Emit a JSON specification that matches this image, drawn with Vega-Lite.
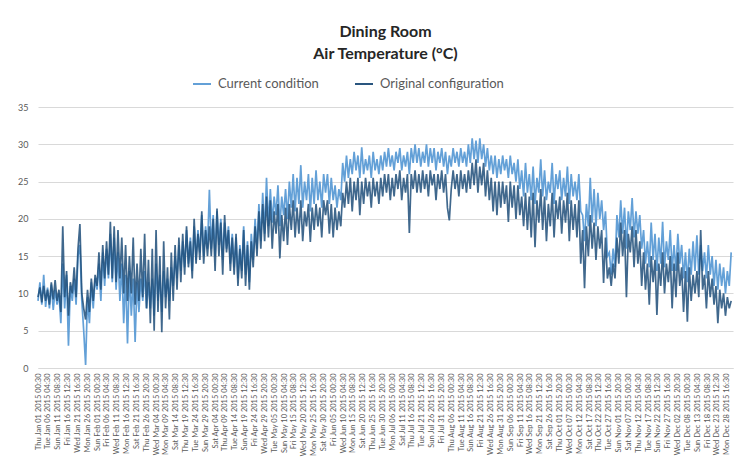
{
"$schema":"https://vega.github.io/schema/vega-lite/v6.json",
"width":695,"height":261,
"autosize":{"type":"none"},
"padding":{"left":38,"top":107,"right":5,"bottom":91},
"background":"white",
"config":{"view":{"stroke":null},"font":"Lato",
"axisY":{"values":[0,5,10,15,20,25,30,35],"labelFontSize":9,"labelFont":"Lato","labelColor":"#595959","ticks":false,"domain":false,"gridColor":"#d9d9d9","labelPadding":10,"title":null}},
"title":{"text":["Dining Room","Air Temperature (°C)"],"fontSize":16,"font":"Lato","fontWeight":"bold","color":"#262626","anchor":"middle","offset":12,"lineHeight":22},
"data":{"values":[
{"d":"2015-01-01","c":9.0,"o":9.5},{"d":"2015-01-02","c":11.5,"o":10.8},{"d":"2015-01-03","c":8.5,"o":8.8},{"d":"2015-01-04","c":12.5,"o":11.0},{"d":"2015-01-05","c":8.2,"o":9.0},{"d":"2015-01-06","c":10.8,"o":10.5},{"d":"2015-01-07","c":8.0,"o":8.5},{"d":"2015-01-08","c":11.2,"o":11.5},{"d":"2015-01-09","c":7.8,"o":9.2},{"d":"2015-01-10","c":10.5,"o":11.8},
{"d":"2015-01-11","c":8.5,"o":9.0},{"d":"2015-01-12","c":10.0,"o":10.5},{"d":"2015-01-13","c":6.0,"o":7.5},{"d":"2015-01-14","c":14.0,"o":19.0},{"d":"2015-01-15","c":8.0,"o":9.5},{"d":"2015-01-16","c":12.5,"o":13.0},{"d":"2015-01-17","c":3.0,"o":7.0},{"d":"2015-01-18","c":11.0,"o":11.5},{"d":"2015-01-19","c":9.0,"o":10.0},{"d":"2015-01-20","c":12.0,"o":13.5},
{"d":"2015-01-21","c":8.5,"o":9.5},{"d":"2015-01-22","c":15.0,"o":16.0},{"d":"2015-01-23","c":16.5,"o":19.3},{"d":"2015-01-24","c":9.0,"o":10.0},{"d":"2015-01-25","c":5.0,"o":8.0},{"d":"2015-01-26","c":0.4,"o":6.5},{"d":"2015-01-27","c":9.5,"o":10.5},{"d":"2015-01-28","c":6.0,"o":7.5},{"d":"2015-01-29","c":11.5,"o":12.0},{"d":"2015-01-30","c":8.0,"o":9.0},{"d":"2015-01-31","c":12.0,"o":12.5},
{"d":"2015-02-01","c":10.5,"o":11.0},{"d":"2015-02-02","c":14.0,"o":15.5},{"d":"2015-02-03","c":9.0,"o":10.5},{"d":"2015-02-04","c":15.5,"o":16.5},{"d":"2015-02-05","c":11.0,"o":12.0},{"d":"2015-02-06","c":16.0,"o":17.0},{"d":"2015-02-07","c":12.0,"o":12.5},{"d":"2015-02-08","c":18.0,"o":19.6},{"d":"2015-02-09","c":11.5,"o":12.0},{"d":"2015-02-10","c":17.5,"o":19.0},
{"d":"2015-02-11","c":10.5,"o":11.5},{"d":"2015-02-12","c":15.5,"o":18.5},{"d":"2015-02-13","c":9.0,"o":12.0},{"d":"2015-02-14","c":14.0,"o":17.5},{"d":"2015-02-15","c":6.0,"o":10.0},{"d":"2015-02-16","c":12.5,"o":16.5},{"d":"2015-02-17","c":3.3,"o":9.0},{"d":"2015-02-18","c":13.0,"o":15.0},{"d":"2015-02-19","c":7.0,"o":10.0},{"d":"2015-02-20","c":12.0,"o":17.5},
{"d":"2015-02-21","c":3.5,"o":8.5},{"d":"2015-02-22","c":11.5,"o":14.0},{"d":"2015-02-23","c":7.5,"o":9.0},{"d":"2015-02-24","c":12.0,"o":16.0},{"d":"2015-02-25","c":9.0,"o":9.5},{"d":"2015-02-26","c":13.0,"o":18.0},{"d":"2015-02-27","c":8.0,"o":8.0},{"d":"2015-02-28","c":11.5,"o":14.5},
{"d":"2015-03-01","c":8.0,"o":6.0},{"d":"2015-03-02","c":12.0,"o":16.0},{"d":"2015-03-03","c":7.0,"o":5.0},{"d":"2015-03-04","c":14.0,"o":18.5},{"d":"2015-03-05","c":9.0,"o":7.5},{"d":"2015-03-06","c":12.5,"o":15.0},{"d":"2015-03-07","c":7.5,"o":4.8},{"d":"2015-03-08","c":13.0,"o":17.0},{"d":"2015-03-09","c":9.5,"o":8.0},{"d":"2015-03-10","c":12.0,"o":13.5},
{"d":"2015-03-11","c":9.0,"o":6.5},{"d":"2015-03-12","c":13.5,"o":15.5},{"d":"2015-03-13","c":11.0,"o":9.0},{"d":"2015-03-14","c":15.0,"o":16.5},{"d":"2015-03-15","c":12.0,"o":10.5},{"d":"2015-03-16","c":16.5,"o":17.5},{"d":"2015-03-17","c":13.0,"o":11.5},{"d":"2015-03-18","c":17.0,"o":18.0},{"d":"2015-03-19","c":13.5,"o":12.5},{"d":"2015-03-20","c":18.5,"o":19.0},
{"d":"2015-03-21","c":14.0,"o":13.5},{"d":"2015-03-22","c":17.5,"o":17.0},{"d":"2015-03-23","c":13.0,"o":12.0},{"d":"2015-03-24","c":19.0,"o":20.0},{"d":"2015-03-25","c":14.5,"o":14.0},{"d":"2015-03-26","c":18.5,"o":18.0},{"d":"2015-03-27","c":15.5,"o":14.5},{"d":"2015-03-28","c":20.5,"o":21.0},{"d":"2015-03-29","c":15.0,"o":14.0},{"d":"2015-03-30","c":19.0,"o":18.5},{"d":"2015-03-31","c":16.0,"o":15.0},
{"d":"2015-04-01","c":23.9,"o":19.0},{"d":"2015-04-02","c":16.0,"o":15.0},{"d":"2015-04-03","c":20.5,"o":20.0},{"d":"2015-04-04","c":15.0,"o":13.0},{"d":"2015-04-05","c":21.0,"o":21.4},{"d":"2015-04-06","c":16.5,"o":15.0},{"d":"2015-04-07","c":20.0,"o":19.5},{"d":"2015-04-08","c":14.5,"o":12.5},{"d":"2015-04-09","c":19.5,"o":20.5},{"d":"2015-04-10","c":16.0,"o":15.5},
{"d":"2015-04-11","c":19.0,"o":18.5},{"d":"2015-04-12","c":14.0,"o":13.0},{"d":"2015-04-13","c":18.0,"o":17.5},{"d":"2015-04-14","c":13.5,"o":12.5},{"d":"2015-04-15","c":17.5,"o":18.0},{"d":"2015-04-16","c":12.0,"o":11.0},{"d":"2015-04-17","c":16.5,"o":16.0},{"d":"2015-04-18","c":13.0,"o":12.0},{"d":"2015-04-19","c":19.0,"o":18.5},{"d":"2015-04-20","c":12.5,"o":11.0},
{"d":"2015-04-21","c":17.0,"o":16.5},{"d":"2015-04-22","c":11.5,"o":10.5},{"d":"2015-04-23","c":18.0,"o":17.0},{"d":"2015-04-24","c":14.5,"o":13.5},{"d":"2015-04-25","c":20.0,"o":19.0},{"d":"2015-04-26","c":16.0,"o":15.0},{"d":"2015-04-27","c":22.0,"o":21.0},{"d":"2015-04-28","c":17.0,"o":16.0},{"d":"2015-04-29","c":23.5,"o":22.0},{"d":"2015-04-30","c":18.0,"o":17.0},
{"d":"2015-05-01","c":25.5,"o":23.0},{"d":"2015-05-02","c":19.0,"o":17.5},{"d":"2015-05-03","c":24.0,"o":22.5},{"d":"2015-05-04","c":19.5,"o":16.0},{"d":"2015-05-05","c":23.0,"o":21.0},{"d":"2015-05-06","c":20.5,"o":18.0},{"d":"2015-05-07","c":24.5,"o":22.0},{"d":"2015-05-08","c":19.0,"o":14.7},{"d":"2015-05-09","c":23.0,"o":20.5},{"d":"2015-05-10","c":20.5,"o":17.0},
{"d":"2015-05-11","c":24.0,"o":21.5},{"d":"2015-05-12","c":20.0,"o":16.5},{"d":"2015-05-13","c":25.0,"o":22.0},{"d":"2015-05-14","c":21.5,"o":18.5},{"d":"2015-05-15","c":26.0,"o":22.5},{"d":"2015-05-16","c":21.0,"o":17.5},{"d":"2015-05-17","c":25.5,"o":21.5},{"d":"2015-05-18","c":22.0,"o":18.0},{"d":"2015-05-19","c":27.2,"o":22.5},{"d":"2015-05-20","c":21.5,"o":17.0},
{"d":"2015-05-21","c":25.0,"o":21.0},{"d":"2015-05-22","c":22.5,"o":19.0},{"d":"2015-05-23","c":26.0,"o":22.0},{"d":"2015-05-24","c":21.0,"o":16.9},{"d":"2015-05-25","c":25.5,"o":21.5},{"d":"2015-05-26","c":22.0,"o":18.5},{"d":"2015-05-27","c":26.5,"o":22.0},{"d":"2015-05-28","c":22.5,"o":19.0},{"d":"2015-05-29","c":25.0,"o":21.5},{"d":"2015-05-30","c":21.5,"o":17.5},{"d":"2015-05-31","c":26.0,"o":22.5},
{"d":"2015-06-01","c":23.5,"o":20.5},{"d":"2015-06-02","c":26.0,"o":22.5},{"d":"2015-06-03","c":22.0,"o":18.0},{"d":"2015-06-04","c":25.5,"o":22.0},{"d":"2015-06-05","c":22.5,"o":17.5},{"d":"2015-06-06","c":24.5,"o":21.5},{"d":"2015-06-07","c":21.5,"o":18.5},{"d":"2015-06-08","c":24.0,"o":21.0},{"d":"2015-06-09","c":22.5,"o":19.0},{"d":"2015-06-10","c":27.5,"o":23.5},
{"d":"2015-06-11","c":25.0,"o":21.5},{"d":"2015-06-12","c":28.5,"o":25.0},{"d":"2015-06-13","c":25.5,"o":22.0},{"d":"2015-06-14","c":28.0,"o":25.5},{"d":"2015-06-15","c":26.0,"o":21.0},{"d":"2015-06-16","c":29.0,"o":25.0},{"d":"2015-06-17","c":26.5,"o":22.5},{"d":"2015-06-18","c":28.5,"o":25.5},{"d":"2015-06-19","c":25.5,"o":20.5},{"d":"2015-06-20","c":29.6,"o":25.0},
{"d":"2015-06-21","c":26.0,"o":22.0},{"d":"2015-06-22","c":28.0,"o":25.5},{"d":"2015-06-23","c":26.5,"o":23.0},{"d":"2015-06-24","c":28.5,"o":25.0},{"d":"2015-06-25","c":25.5,"o":21.5},{"d":"2015-06-26","c":29.0,"o":25.5},{"d":"2015-06-27","c":26.5,"o":23.0},{"d":"2015-06-28","c":28.0,"o":25.0},{"d":"2015-06-29","c":26.0,"o":22.0},{"d":"2015-06-30","c":28.5,"o":25.5},
{"d":"2015-07-01","c":26.5,"o":23.0},{"d":"2015-07-02","c":29.0,"o":26.0},{"d":"2015-07-03","c":27.0,"o":23.5},{"d":"2015-07-04","c":29.5,"o":26.0},{"d":"2015-07-05","c":27.0,"o":22.5},{"d":"2015-07-06","c":28.5,"o":25.5},{"d":"2015-07-07","c":26.5,"o":23.0},{"d":"2015-07-08","c":29.0,"o":26.0},{"d":"2015-07-09","c":27.5,"o":24.0},{"d":"2015-07-10","c":29.5,"o":26.5},
{"d":"2015-07-11","c":26.5,"o":22.5},{"d":"2015-07-12","c":28.5,"o":25.5},{"d":"2015-07-13","c":27.0,"o":23.5},{"d":"2015-07-14","c":29.0,"o":26.0},{"d":"2015-07-15","c":26.0,"o":18.1},{"d":"2015-07-16","c":29.5,"o":26.0},{"d":"2015-07-17","c":27.5,"o":24.0},{"d":"2015-07-18","c":30.0,"o":26.5},{"d":"2015-07-19","c":27.5,"o":23.5},{"d":"2015-07-20","c":29.5,"o":26.0},
{"d":"2015-07-21","c":27.0,"o":23.5},{"d":"2015-07-22","c":29.0,"o":26.5},{"d":"2015-07-23","c":27.5,"o":24.0},{"d":"2015-07-24","c":30.0,"o":26.0},{"d":"2015-07-25","c":27.0,"o":23.0},{"d":"2015-07-26","c":29.5,"o":26.5},{"d":"2015-07-27","c":27.5,"o":24.5},{"d":"2015-07-28","c":29.5,"o":26.0},{"d":"2015-07-29","c":26.5,"o":22.5},{"d":"2015-07-30","c":29.0,"o":26.0},{"d":"2015-07-31","c":27.5,"o":24.0},
{"d":"2015-08-01","c":29.5,"o":26.5},{"d":"2015-08-02","c":27.0,"o":23.5},{"d":"2015-08-03","c":29.0,"o":26.0},{"d":"2015-08-04","c":26.0,"o":21.5},{"d":"2015-08-05","c":28.5,"o":19.8},{"d":"2015-08-06","c":27.0,"o":24.0},{"d":"2015-08-07","c":29.5,"o":26.5},{"d":"2015-08-08","c":27.5,"o":24.0},{"d":"2015-08-09","c":29.0,"o":26.0},{"d":"2015-08-10","c":27.0,"o":23.0},
{"d":"2015-08-11","c":29.5,"o":26.5},{"d":"2015-08-12","c":27.5,"o":24.0},{"d":"2015-08-13","c":29.0,"o":26.0},{"d":"2015-08-14","c":27.0,"o":23.5},{"d":"2015-08-15","c":30.0,"o":26.5},{"d":"2015-08-16","c":27.5,"o":24.0},{"d":"2015-08-17","c":30.8,"o":27.5},{"d":"2015-08-18","c":28.0,"o":24.5},{"d":"2015-08-19","c":30.5,"o":28.0},{"d":"2015-08-20","c":27.5,"o":23.5},
{"d":"2015-08-21","c":30.8,"o":27.0},{"d":"2015-08-22","c":28.0,"o":24.5},{"d":"2015-08-23","c":30.0,"o":27.5},{"d":"2015-08-24","c":27.0,"o":23.0},{"d":"2015-08-25","c":29.5,"o":26.5},{"d":"2015-08-26","c":26.5,"o":22.5},{"d":"2015-08-27","c":28.5,"o":25.5},{"d":"2015-08-28","c":26.0,"o":21.0},{"d":"2015-08-29","c":28.5,"o":25.0},{"d":"2015-08-30","c":25.5,"o":20.5},{"d":"2015-08-31","c":28.0,"o":25.0},
{"d":"2015-09-01","c":26.0,"o":21.5},{"d":"2015-09-02","c":28.5,"o":25.0},{"d":"2015-09-03","c":26.5,"o":22.0},{"d":"2015-09-04","c":28.0,"o":24.5},{"d":"2015-09-05","c":25.5,"o":19.6},{"d":"2015-09-06","c":28.5,"o":25.0},{"d":"2015-09-07","c":26.0,"o":21.5},{"d":"2015-09-08","c":27.5,"o":24.5},{"d":"2015-09-09","c":25.0,"o":20.0},{"d":"2015-09-10","c":28.0,"o":24.5},
{"d":"2015-09-11","c":24.0,"o":20.5},{"d":"2015-09-12","c":26.5,"o":23.0},{"d":"2015-09-13","c":23.0,"o":19.0},{"d":"2015-09-14","c":27.5,"o":23.5},{"d":"2015-09-15","c":23.5,"o":18.5},{"d":"2015-09-16","c":26.0,"o":23.0},{"d":"2015-09-17","c":22.5,"o":17.5},{"d":"2015-09-18","c":27.0,"o":23.5},{"d":"2015-09-19","c":22.0,"o":16.2},{"d":"2015-09-20","c":25.5,"o":22.5},
{"d":"2015-09-21","c":23.5,"o":19.5},{"d":"2015-09-22","c":28.0,"o":24.0},{"d":"2015-09-23","c":23.0,"o":18.5},{"d":"2015-09-24","c":26.5,"o":23.0},{"d":"2015-09-25","c":22.5,"o":17.0},{"d":"2015-09-26","c":25.0,"o":22.0},{"d":"2015-09-27","c":23.5,"o":19.0},{"d":"2015-09-28","c":27.5,"o":23.5},{"d":"2015-09-29","c":22.0,"o":17.5},{"d":"2015-09-30","c":26.0,"o":22.5},
{"d":"2015-10-01","c":24.0,"o":20.0},{"d":"2015-10-02","c":26.5,"o":23.0},{"d":"2015-10-03","c":22.5,"o":18.0},{"d":"2015-10-04","c":25.5,"o":22.5},{"d":"2015-10-05","c":23.0,"o":19.5},{"d":"2015-10-06","c":27.0,"o":23.5},{"d":"2015-10-07","c":22.0,"o":17.0},{"d":"2015-10-08","c":26.0,"o":22.5},{"d":"2015-10-09","c":23.0,"o":18.5},{"d":"2015-10-10","c":25.0,"o":22.0},
{"d":"2015-10-11","c":22.5,"o":17.5},{"d":"2015-10-12","c":26.0,"o":22.5},{"d":"2015-10-13","c":21.0,"o":14.0},{"d":"2015-10-14","c":20.5,"o":18.5},{"d":"2015-10-15","c":17.0,"o":10.7},{"d":"2015-10-16","c":22.0,"o":19.0},{"d":"2015-10-17","c":19.0,"o":15.0},{"d":"2015-10-18","c":25.5,"o":20.5},{"d":"2015-10-19","c":19.5,"o":16.0},{"d":"2015-10-20","c":24.0,"o":19.5},
{"d":"2015-10-21","c":19.0,"o":14.5},{"d":"2015-10-22","c":23.5,"o":19.0},{"d":"2015-10-23","c":20.0,"o":16.0},{"d":"2015-10-24","c":22.5,"o":18.5},{"d":"2015-10-25","c":18.5,"o":11.4},{"d":"2015-10-26","c":21.0,"o":17.5},{"d":"2015-10-27","c":15.0,"o":12.0},{"d":"2015-10-28","c":15.5,"o":13.5},{"d":"2015-10-29","c":12.5,"o":11.0},{"d":"2015-10-30","c":16.0,"o":14.0},{"d":"2015-10-31","c":13.5,"o":12.0},
{"d":"2015-11-01","c":20.5,"o":17.5},{"d":"2015-11-02","c":17.5,"o":14.0},{"d":"2015-11-03","c":22.5,"o":19.5},{"d":"2015-11-04","c":18.0,"o":15.0},{"d":"2015-11-05","c":21.5,"o":18.5},{"d":"2015-11-06","c":16.0,"o":9.5},{"d":"2015-11-07","c":21.0,"o":18.0},{"d":"2015-11-08","c":18.5,"o":15.5},{"d":"2015-11-09","c":22.8,"o":19.0},{"d":"2015-11-10","c":17.5,"o":13.5},
{"d":"2015-11-11","c":21.0,"o":18.5},{"d":"2015-11-12","c":18.0,"o":14.0},{"d":"2015-11-13","c":20.5,"o":17.0},{"d":"2015-11-14","c":16.0,"o":11.0},{"d":"2015-11-15","c":18.5,"o":15.5},{"d":"2015-11-16","c":14.0,"o":10.5},{"d":"2015-11-17","c":17.0,"o":14.0},{"d":"2015-11-18","c":13.5,"o":8.5},{"d":"2015-11-19","c":19.5,"o":15.0},{"d":"2015-11-20","c":14.5,"o":11.5},
{"d":"2015-11-21","c":18.0,"o":14.5},{"d":"2015-11-22","c":13.0,"o":7.1},{"d":"2015-11-23","c":17.5,"o":14.0},{"d":"2015-11-24","c":14.0,"o":11.0},{"d":"2015-11-25","c":19.6,"o":15.5},{"d":"2015-11-26","c":13.5,"o":10.0},{"d":"2015-11-27","c":17.0,"o":14.0},{"d":"2015-11-28","c":14.5,"o":11.5},{"d":"2015-11-29","c":18.5,"o":15.0},{"d":"2015-11-30","c":13.0,"o":8.0},
{"d":"2015-12-01","c":16.5,"o":14.0},{"d":"2015-12-02","c":13.0,"o":9.5},{"d":"2015-12-03","c":18.0,"o":15.5},{"d":"2015-12-04","c":14.0,"o":11.0},{"d":"2015-12-05","c":16.5,"o":13.5},{"d":"2015-12-06","c":12.0,"o":7.5},{"d":"2015-12-07","c":15.5,"o":13.0},{"d":"2015-12-08","c":11.5,"o":6.2},{"d":"2015-12-09","c":16.0,"o":13.5},{"d":"2015-12-10","c":12.5,"o":9.0},
{"d":"2015-12-11","c":17.0,"o":12.5},{"d":"2015-12-12","c":13.0,"o":10.0},{"d":"2015-12-13","c":17.8,"o":13.0},{"d":"2015-12-14","c":12.5,"o":9.5},{"d":"2015-12-15","c":16.5,"o":18.5},{"d":"2015-12-16","c":13.0,"o":10.5},{"d":"2015-12-17","c":15.5,"o":12.5},{"d":"2015-12-18","c":12.0,"o":8.0},{"d":"2015-12-19","c":16.5,"o":13.0},{"d":"2015-12-20","c":12.5,"o":9.5},
{"d":"2015-12-21","c":15.0,"o":12.0},{"d":"2015-12-22","c":11.0,"o":8.5},{"d":"2015-12-23","c":14.5,"o":11.0},{"d":"2015-12-24","c":10.5,"o":6.0},{"d":"2015-12-25","c":14.0,"o":10.5},{"d":"2015-12-26","c":11.0,"o":8.0},{"d":"2015-12-27","c":13.5,"o":10.0},{"d":"2015-12-28","c":10.0,"o":7.0},{"d":"2015-12-29","c":13.0,"o":9.5},{"d":"2015-12-30","c":11.0,"o":8.0},{"d":"2015-12-31","c":15.5,"o":9.0}
]},
"encoding":{
"x":{"field":"d","type":"temporal","title":null,
"scale":{"type":"utc","domain":[{"year":2015,"month":1,"date":1,"utc":true},{"year":2015,"month":12,"date":31,"hours":23,"utc":true}]},
"axis":{"labelExpr":"utcFormat(datum.value, '%a %b %d %Y %H:%M')","labelAngle":-90,"labelFontSize":7.5,"labelFont":"Lato","labelColor":"#595959","labelOverlap":false,"labelBound":false,"labelFlush":false,"labelLimit":200,"ticks":false,"grid":false,"domainColor":"#d9d9d9","labelPadding":5,
"values":[
{"year":2015,"month":1,"date":1,"hours":0,"minutes":30,"utc":true},{"year":2015,"month":1,"date":6,"hours":4,"minutes":30,"utc":true},{"year":2015,"month":1,"date":11,"hours":8,"minutes":30,"utc":true},{"year":2015,"month":1,"date":16,"hours":12,"minutes":30,"utc":true},{"year":2015,"month":1,"date":21,"hours":16,"minutes":30,"utc":true},{"year":2015,"month":1,"date":26,"hours":20,"minutes":30,"utc":true},
{"year":2015,"month":2,"date":1,"hours":0,"minutes":30,"utc":true},{"year":2015,"month":2,"date":6,"hours":4,"minutes":30,"utc":true},{"year":2015,"month":2,"date":11,"hours":8,"minutes":30,"utc":true},{"year":2015,"month":2,"date":16,"hours":12,"minutes":30,"utc":true},{"year":2015,"month":2,"date":21,"hours":16,"minutes":30,"utc":true},{"year":2015,"month":2,"date":26,"hours":20,"minutes":30,"utc":true},
{"year":2015,"month":3,"date":4,"hours":0,"minutes":30,"utc":true},{"year":2015,"month":3,"date":9,"hours":4,"minutes":30,"utc":true},{"year":2015,"month":3,"date":14,"hours":8,"minutes":30,"utc":true},{"year":2015,"month":3,"date":19,"hours":12,"minutes":30,"utc":true},{"year":2015,"month":3,"date":24,"hours":16,"minutes":30,"utc":true},{"year":2015,"month":3,"date":29,"hours":20,"minutes":30,"utc":true},
{"year":2015,"month":4,"date":4,"hours":0,"minutes":30,"utc":true},{"year":2015,"month":4,"date":9,"hours":4,"minutes":30,"utc":true},{"year":2015,"month":4,"date":14,"hours":8,"minutes":30,"utc":true},{"year":2015,"month":4,"date":19,"hours":12,"minutes":30,"utc":true},{"year":2015,"month":4,"date":24,"hours":16,"minutes":30,"utc":true},{"year":2015,"month":4,"date":29,"hours":20,"minutes":30,"utc":true},
{"year":2015,"month":5,"date":5,"hours":0,"minutes":30,"utc":true},{"year":2015,"month":5,"date":10,"hours":4,"minutes":30,"utc":true},{"year":2015,"month":5,"date":15,"hours":8,"minutes":30,"utc":true},{"year":2015,"month":5,"date":20,"hours":12,"minutes":30,"utc":true},{"year":2015,"month":5,"date":25,"hours":16,"minutes":30,"utc":true},{"year":2015,"month":5,"date":30,"hours":20,"minutes":30,"utc":true},
{"year":2015,"month":6,"date":5,"hours":0,"minutes":30,"utc":true},{"year":2015,"month":6,"date":10,"hours":4,"minutes":30,"utc":true},{"year":2015,"month":6,"date":15,"hours":8,"minutes":30,"utc":true},{"year":2015,"month":6,"date":20,"hours":12,"minutes":30,"utc":true},{"year":2015,"month":6,"date":25,"hours":16,"minutes":30,"utc":true},{"year":2015,"month":6,"date":30,"hours":20,"minutes":30,"utc":true},
{"year":2015,"month":7,"date":6,"hours":0,"minutes":30,"utc":true},{"year":2015,"month":7,"date":11,"hours":4,"minutes":30,"utc":true},{"year":2015,"month":7,"date":16,"hours":8,"minutes":30,"utc":true},{"year":2015,"month":7,"date":21,"hours":12,"minutes":30,"utc":true},{"year":2015,"month":7,"date":26,"hours":16,"minutes":30,"utc":true},{"year":2015,"month":7,"date":31,"hours":20,"minutes":30,"utc":true},
{"year":2015,"month":8,"date":6,"hours":0,"minutes":30,"utc":true},{"year":2015,"month":8,"date":11,"hours":4,"minutes":30,"utc":true},{"year":2015,"month":8,"date":16,"hours":8,"minutes":30,"utc":true},{"year":2015,"month":8,"date":21,"hours":12,"minutes":30,"utc":true},{"year":2015,"month":8,"date":26,"hours":16,"minutes":30,"utc":true},{"year":2015,"month":8,"date":31,"hours":20,"minutes":30,"utc":true},
{"year":2015,"month":9,"date":6,"hours":0,"minutes":30,"utc":true},{"year":2015,"month":9,"date":11,"hours":4,"minutes":30,"utc":true},{"year":2015,"month":9,"date":16,"hours":8,"minutes":30,"utc":true},{"year":2015,"month":9,"date":21,"hours":12,"minutes":30,"utc":true},{"year":2015,"month":9,"date":26,"hours":16,"minutes":30,"utc":true},{"year":2015,"month":10,"date":1,"hours":20,"minutes":30,"utc":true},
{"year":2015,"month":10,"date":7,"hours":0,"minutes":30,"utc":true},{"year":2015,"month":10,"date":12,"hours":4,"minutes":30,"utc":true},{"year":2015,"month":10,"date":17,"hours":8,"minutes":30,"utc":true},{"year":2015,"month":10,"date":22,"hours":12,"minutes":30,"utc":true},{"year":2015,"month":10,"date":27,"hours":16,"minutes":30,"utc":true},{"year":2015,"month":11,"date":1,"hours":20,"minutes":30,"utc":true},
{"year":2015,"month":11,"date":7,"hours":0,"minutes":30,"utc":true},{"year":2015,"month":11,"date":12,"hours":4,"minutes":30,"utc":true},{"year":2015,"month":11,"date":17,"hours":8,"minutes":30,"utc":true},{"year":2015,"month":11,"date":22,"hours":12,"minutes":30,"utc":true},{"year":2015,"month":11,"date":27,"hours":16,"minutes":30,"utc":true},{"year":2015,"month":12,"date":2,"hours":20,"minutes":30,"utc":true},
{"year":2015,"month":12,"date":8,"hours":0,"minutes":30,"utc":true},{"year":2015,"month":12,"date":13,"hours":4,"minutes":30,"utc":true},{"year":2015,"month":12,"date":18,"hours":8,"minutes":30,"utc":true},{"year":2015,"month":12,"date":23,"hours":12,"minutes":30,"utc":true},{"year":2015,"month":12,"date":28,"hours":16,"minutes":30,"utc":true}
]}}
},
"layer":[
{"mark":{"type":"line","strokeWidth":1.7,"opacity":0.95},
"encoding":{"y":{"field":"c","type":"quantitative","title":null,"scale":{"domain":[0,35],"nice":false}},
"color":{"datum":"Current condition","type":"nominal","scale":{"domain":["Current condition","Original configuration"],"range":["#5B9BD5","#1F4E79"]},
"legend":{"orient":"none","legendX":154,"legendY":-33,"direction":"horizontal","title":null,"symbolType":"stroke","symbolSize":324,"symbolStrokeWidth":2,"labelFontSize":13,"labelFont":"Lato","labelColor":"#595959","columnPadding":32,"labelOffset":6}}}},
{"mark":{"type":"line","strokeWidth":1.7,"opacity":0.85},
"encoding":{"y":{"field":"o","type":"quantitative","title":null,"scale":{"domain":[0,35],"nice":false}},
"color":{"datum":"Original configuration","type":"nominal"}}}
]
}
